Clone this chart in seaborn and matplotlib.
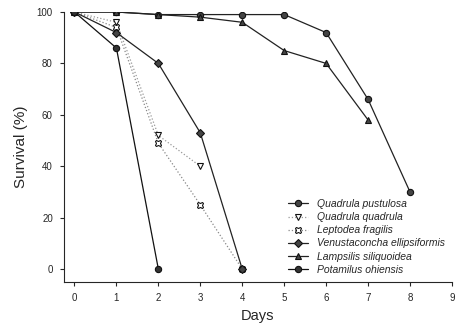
import matplotlib
matplotlib.use("Agg")
import matplotlib.pyplot as plt
import seaborn as sns
import pandas as pd

species = ["Quadrula pustulosa", "Quadrula quadrula", "Leptodea fragilis",
           "Venustaconcha ellipsiformis", "Lampsilis siliquoidea", "Potamilus ohiensis"]
days_pustulosa = [0, 1, 2, 3, 4, 5, 6, 7, 8]
surv_pustulosa = [100, 100, 99, 99, 99, 99, 92, 66, 30]
days_quadrula = [0, 1, 2, 3]
surv_quadrula = [100, 96, 52, 40]
days_leptodea = [0, 1, 2, 3, 4]
surv_leptodea = [100, 94, 49, 25, 0]
days_venust = [0, 1, 2, 3, 4]
surv_venust = [100, 92, 80, 53, 0]
days_lampsilis = [0, 1, 2, 3, 4, 5, 6, 7]
surv_lampsilis = [100, 100, 99, 98, 96, 85, 80, 58]
days_potamilus = [0, 1, 2]
surv_potamilus = [100, 86, 0]

data = [(days_pustulosa, surv_pustulosa), (days_quadrula, surv_quadrula),
        (days_leptodea, surv_leptodea), (days_venust, surv_venust),
        (days_lampsilis, surv_lampsilis), (days_potamilus, surv_potamilus)]

styles = [
    dict(color="#222222", ls="-", marker="o", mfc="#444444", lw=0.9),
    dict(color="#999999", ls=":", marker="v", mfc="white", lw=0.9),
    dict(color="#888888", ls=":", marker="X", mfc="white", lw=0.9),
    dict(color="#222222", ls="-", marker="D", mfc="#444444", lw=0.9),
    dict(color="#222222", ls="-", marker="^", mfc="#444444", lw=0.9),
    dict(color="#111111", ls="-", marker="o", mfc="#333333", lw=0.9),
]

sns.set_style("ticks")
plt.rcParams['font.family'] = ['Liberation Sans', 'DejaVu Sans']

fig = plt.figure(figsize=(4.57, 3.29), dpi=100)
ax = fig.add_axes([0.140, 0.143, 0.849, 0.8205])

for name, (d, s), st in zip(species, data, styles):
    df = pd.DataFrame({"Days": d, "Survival": s})
    sns.lineplot(data=df, x="Days", y="Survival", ax=ax, label=name,
                 color=st["color"], linestyle=st["ls"], linewidth=st["lw"],
                 marker=st["marker"], markersize=4.5, markerfacecolor=st["mfc"],
                 markeredgecolor="#111111", markeredgewidth=0.8)

ax.set_xlim(-0.25, 9)
ax.set_ylim(-5, 100)
ax.set_xticks(range(0, 10))
ax.set_yticks([0, 20, 40, 60, 80, 100])
ax.tick_params(axis="both", labelsize=7, length=3, width=0.8, direction="out", pad=5)
ax.set_xlabel("Days", fontsize=10.5, labelpad=4)
ax.set_ylabel("Survival (%)", fontsize=11, labelpad=6)
for sp in ["top", "right"]:
    ax.spines[sp].set_visible(False)
for sp in ["left", "bottom"]:
    ax.spines[sp].set_linewidth(0.8)

leg = ax.legend(loc="lower right", bbox_to_anchor=(1.0, 0.0), frameon=False,
                prop={"style": "italic", "size": 7.5}, handlelength=2.0,
                labelspacing=0.3, borderaxespad=0.3)

fig.savefig("out.png", dpi=100)
